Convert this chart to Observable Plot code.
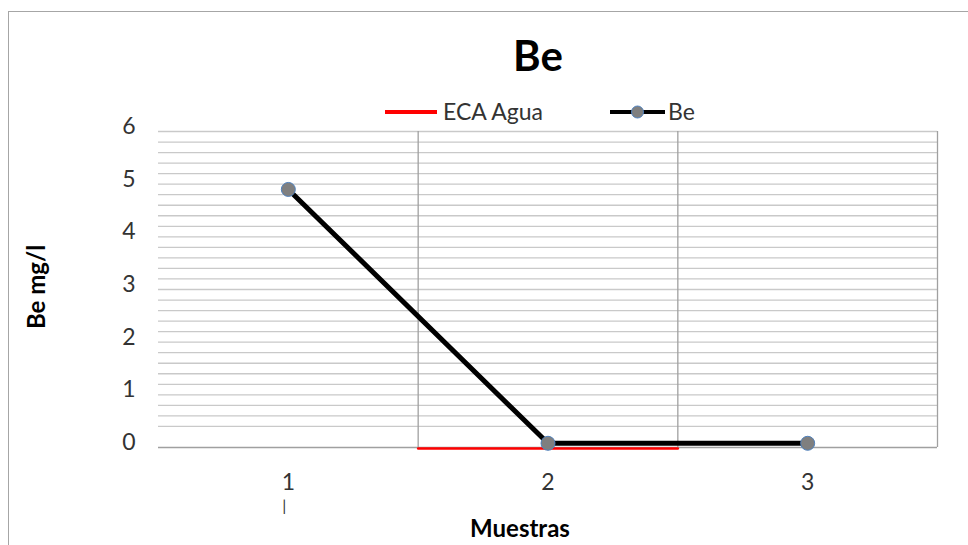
<!DOCTYPE html>
<html><head><meta charset="utf-8">
<script src="https://cdn.jsdelivr.net/npm/d3@7"></script>
<script src="https://cdn.jsdelivr.net/npm/@observablehq/plot@0.6"></script>
<style>
body{margin:0;background:#fff;font-family:Lato,"Open Sans",sans-serif;}
#wrap{position:relative;width:968px;height:545px;overflow:hidden;}
#border{position:absolute;left:8px;top:11px;width:1100px;height:700px;border:1.5px solid #a6a6a6;box-sizing:border-box;}
#chart{position:absolute;left:0;top:0;}
.abs{position:absolute;white-space:nowrap;color:#000;}
#title{left:538px;top:55px;transform:translate(-50%,-50%);font-weight:bold;font-size:42px;}
#ytitle{left:35px;top:287px;transform:translate(-50%,-50%) rotate(-90deg);font-weight:bold;font-size:24px;}
#xtitle{left:520px;top:527px;transform:translate(-50%,-50%);font-weight:bold;font-size:24px;}
#legend{position:absolute;left:0;top:0;}
</style></head>
<body>
<div id="wrap">
  <div id="border"></div>
  <div id="chart"></div>
  <div class="abs" id="title">Be</div>
  <div class="abs" id="ytitle">Be mg/l</div>
  <div class="abs" id="xtitle">Muestras</div>
  <svg id="legend" width="968" height="140"></svg>
</div>
<script>
// Data
const samples = [1, 2, 3];
const beValues = [4.9, 0.08, 0.08];
const ecaX = [1.5, 2.5];
const ecaValues = [0, 0];
const yTickLabels = [0, 1, 2, 3, 4, 5, 6];
const legendNames = ["ECA Agua", "Be"];
const legendColors = ["#ff0000", "#000000"];

const be = samples.map((s, i) => ({x: s, y: beValues[i]}));
const eca = ecaX.map((s, i) => ({x: s, y: ecaValues[i]}));
const minorGrid = d3.range(2, 31).map(i => Math.round(i * 0.2 * 10) / 10);
const bandEdges = [1.5, 2.5, 3.5];

const chart = Plot.plot({
  width: 968, height: 545,
  marginTop: 131, marginBottom: 98, marginLeft: 158, marginRight: 31,
  x: {type: "linear", domain: [0.5, 3.5]},
  y: {domain: [0, 6]},
  style: {fontFamily: "Lato, 'Open Sans', sans-serif", fontSize: "23px", color: "#333333", background: "transparent"},
  marks: [
    Plot.ruleY(minorGrid, {stroke: "#c9c9c9", strokeWidth: 1.3}),
    Plot.ruleX(bandEdges, {stroke: "#a0a0a0", strokeWidth: 1.3}),
    Plot.ruleY([0], {stroke: "#a0a0a0", strokeWidth: 1.5}),
    Plot.line(eca, {x: "x", y: "y", stroke: "#ff0000", strokeWidth: 2.5, dy: 1}),
    Plot.line(be, {x: "x", y: "y", stroke: "#000000", strokeWidth: 5}),
    Plot.dot(be, {x: "x", y: "y", r: 7, fill: "#7f7f7f", stroke: "#4f81bd", strokeWidth: 1}),
    Plot.axisY(yTickLabels, {tickSize: 0, tickPadding: 23, dy: -5, label: null, fill: "#333333", fontSize: 23, tickFormat: d => String(d)}),
    Plot.axisX(samples, {tickSize: 0, tickPadding: 26, label: null, fill: "#333333", fontSize: 23, tickFormat: d => String(d)}),
    Plot.text(["|"], {x: samples[0], frameAnchor: "bottom", dy: 63, dx: -4, fill: "#333333", fontSize: 16})
  ]
});
document.getElementById("chart").appendChild(chart);

// Legend
const lg = d3.select("#legend");
const items = [
  {x0: 385, x1: 437, tx: 443},
  {x0: 610, x1: 665, tx: 668}
];
items.forEach((it, i) => {
  lg.append("line").attr("x1", it.x0).attr("x2", it.x1).attr("y1", 112).attr("y2", 112)
    .attr("stroke", legendColors[i]).attr("stroke-width", 4);
  if (i === 1) {
    lg.append("circle").attr("cx", (it.x0 + it.x1) / 2).attr("cy", 112).attr("r", 6)
      .attr("fill", "#7f7f7f").attr("stroke", "#4f81bd").attr("stroke-width", 1);
  }
  lg.append("text").attr("x", it.tx).attr("y", 112).attr("dy", "0.35em")
    .attr("font-family", "Lato, 'Open Sans', sans-serif").attr("font-size", 23).attr("fill", "#333333")
    .text(legendNames[i]);
});
</script>
</body></html>
